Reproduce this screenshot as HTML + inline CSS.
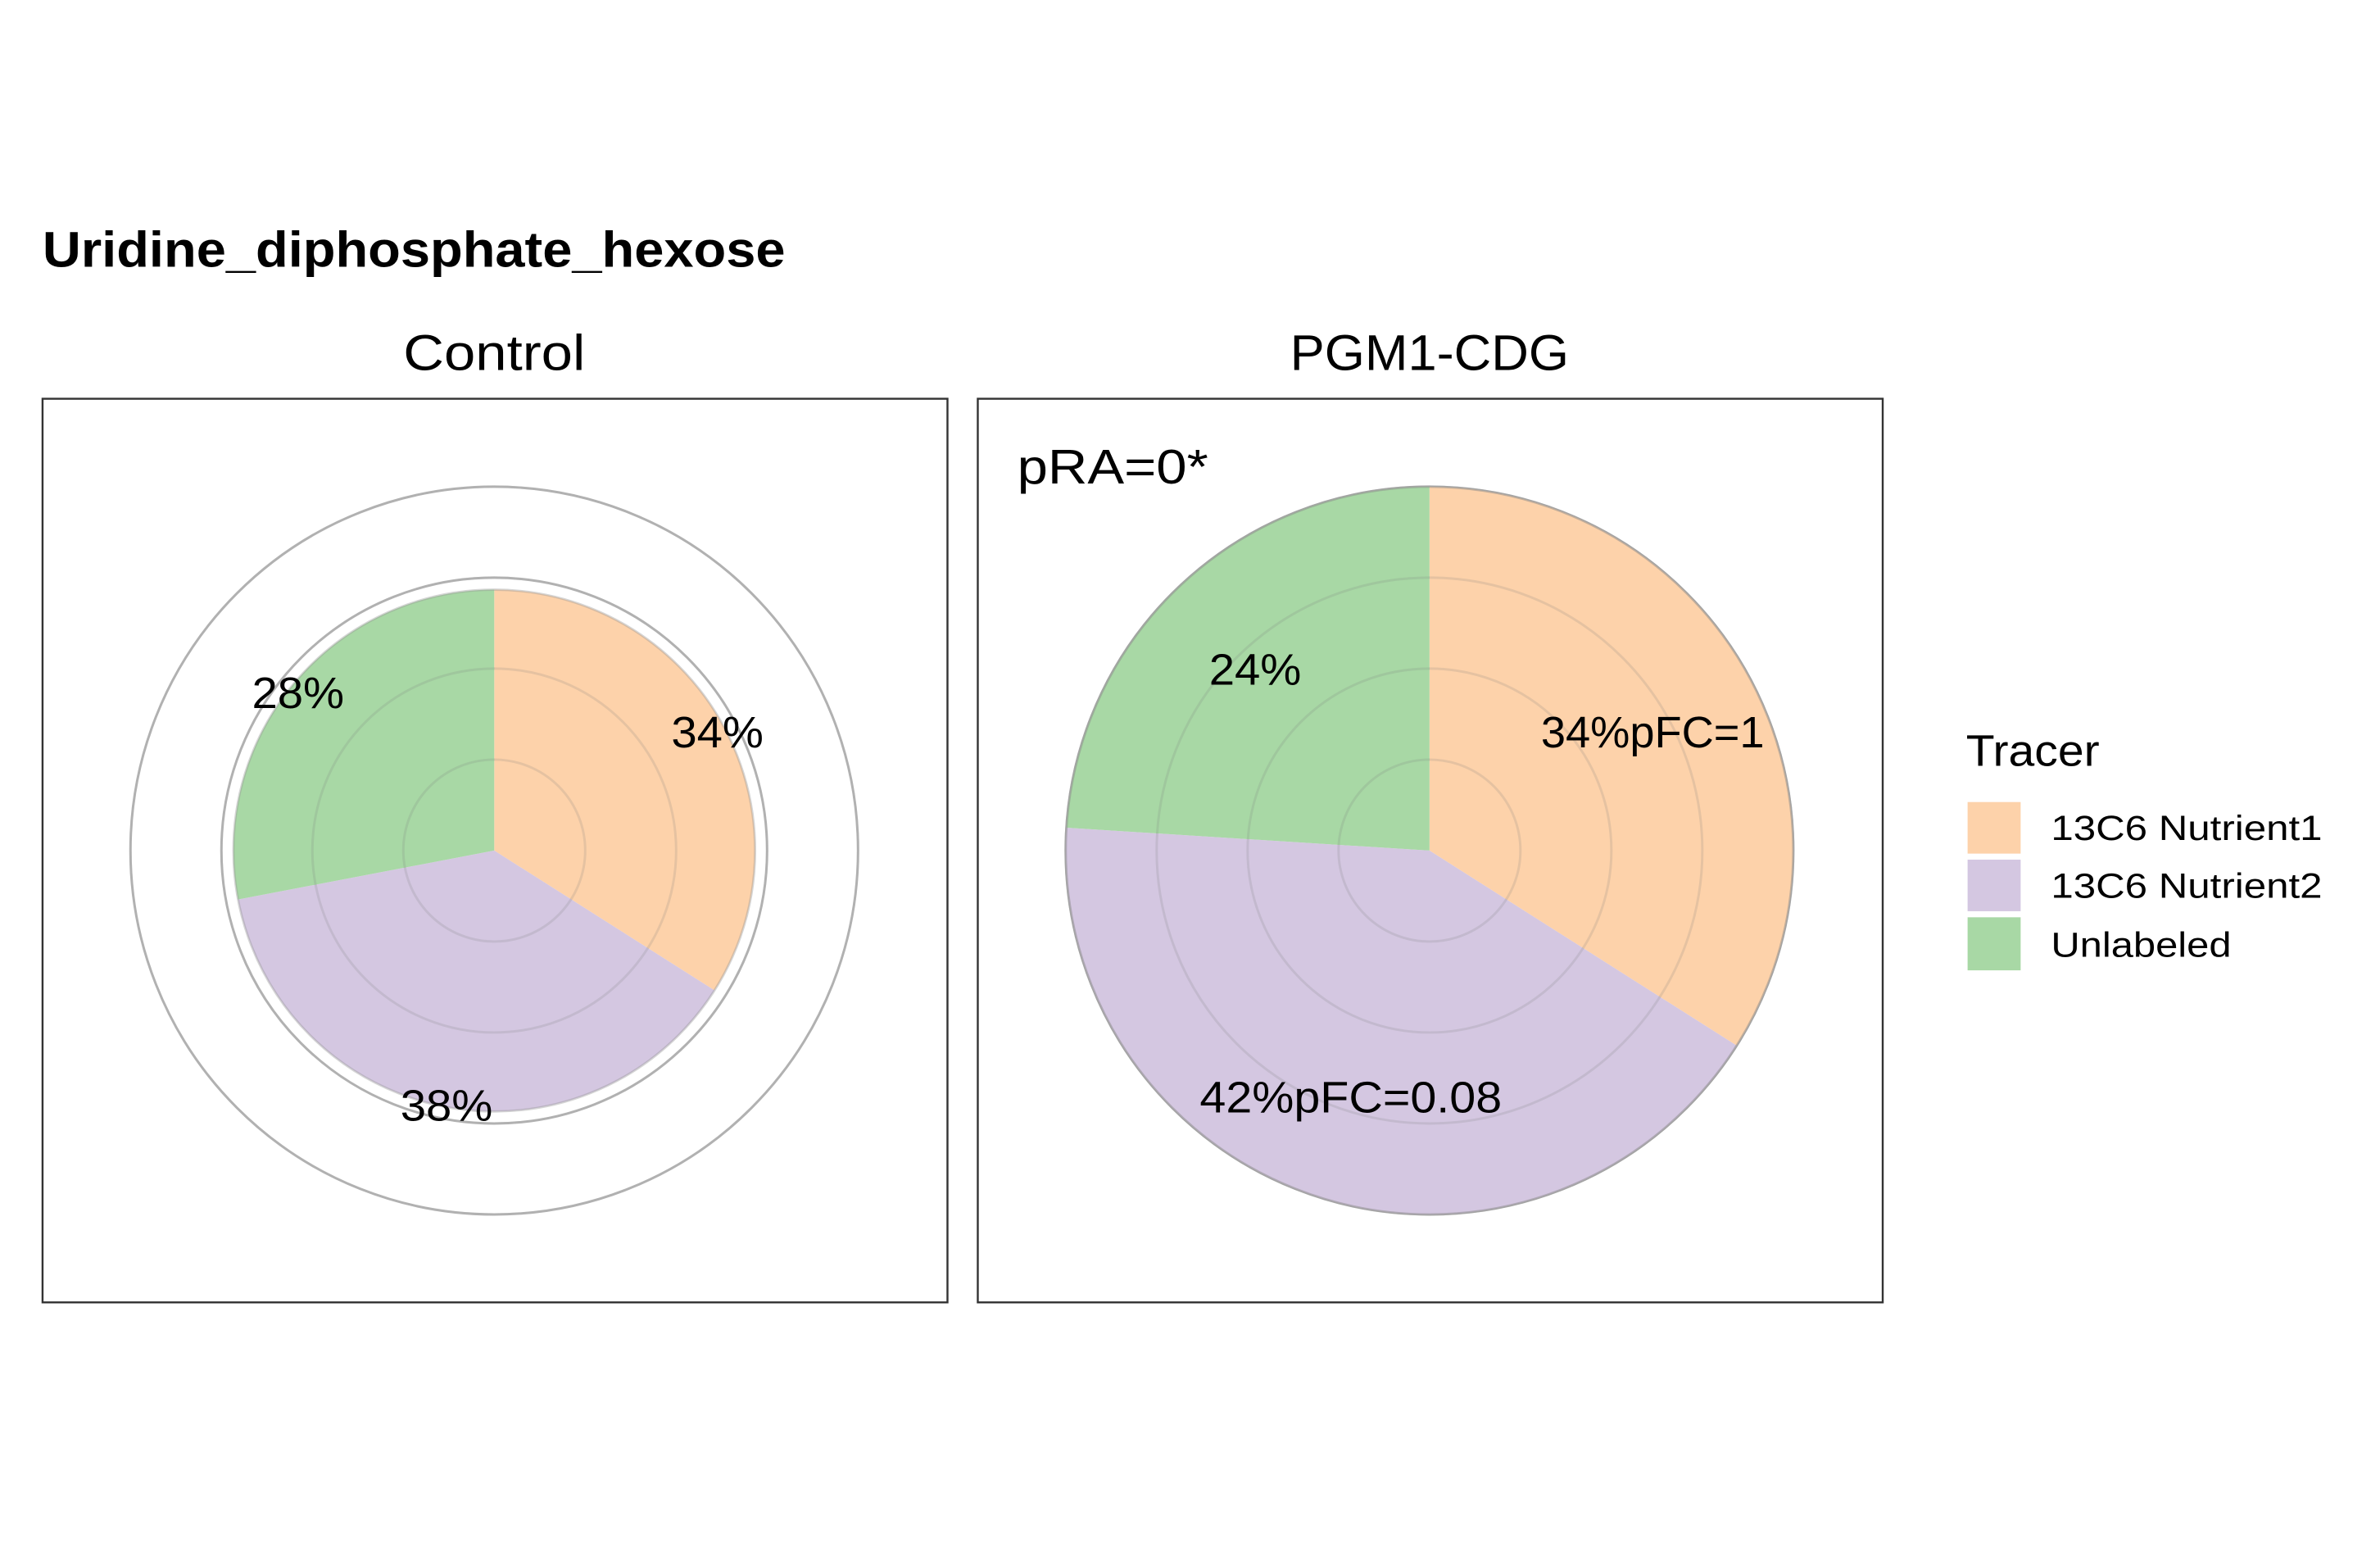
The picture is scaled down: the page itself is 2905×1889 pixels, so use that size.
<!DOCTYPE html>
<html><head><meta charset="utf-8"><style>
html,body{margin:0;padding:0;background:#fff}
svg{display:block}
text{font-family:"Liberation Sans",sans-serif}
</style></head><body>
<svg id="chart" width="2905" height="1889" viewBox="0 0 1570 1021" xmlns="http://www.w3.org/2000/svg">
<rect width="1570" height="1021" fill="#fff"/>
<text x="28" y="176" font-size="33" font-weight="bold" textLength="490" lengthAdjust="spacingAndGlyphs">Uridine_diphosphate_hexose</text>
<text x="326" y="244" font-size="33" text-anchor="middle" textLength="120" lengthAdjust="spacingAndGlyphs">Control</text>
<text x="943" y="244" font-size="33" text-anchor="middle" textLength="184" lengthAdjust="spacingAndGlyphs">PGM1-CDG</text>
<g id="panels"></g>
<rect x="28" y="263" width="597" height="596" fill="none" stroke="#333" stroke-width="1.3"/>
<rect x="645" y="263" width="597" height="596" fill="none" stroke="#333" stroke-width="1.3"/>
<text x="671" y="319" font-size="32" textLength="126" lengthAdjust="spacingAndGlyphs">pRA=0*</text>
<g>
<text x="1297" y="505" font-size="29" textLength="88" lengthAdjust="spacingAndGlyphs">Tracer</text>
<rect x="1298" y="529" width="35" height="34" fill="#fdd2aa"/>
<rect x="1298" y="567" width="35" height="34" fill="#d4c7e1"/>
<rect x="1298" y="605" width="35" height="35" fill="#a8d8a5"/>
<text x="1353" y="554" font-size="23" textLength="179" lengthAdjust="spacingAndGlyphs">13C6 Nutrient1</text>
<text x="1353" y="592" font-size="23" textLength="179" lengthAdjust="spacingAndGlyphs">13C6 Nutrient2</text>
<text x="1353" y="631" font-size="23" textLength="119" lengthAdjust="spacingAndGlyphs">Unlabeled</text>
</g>
</svg>
<script>
const panels = ["Control", "PGM1-CDG"];
const tracers = ["13C6 Nutrient1", "13C6 Nutrient2", "Unlabeled"];
const controlShares = [34, 38, 28];
const pgmShares = [34, 42, 24];
const totals = [0.717, 1.0];
const controlLabels = ["34%", "38%", "28%"];
const pgmLabels = ["34%pFC=1", "42%pFC=0.08", "24%"];
const gridTicks = [0.25, 0.5, 0.75, 1.0];

const colors = ["#fdd2aa", "#d4c7e1", "#a8d8a5"];
const centers = [[326, 561], [943, 561]];
const maxR = 240, labelR = 168;
const NS = "http://www.w3.org/2000/svg";
const g = document.getElementById("panels");
const rScale = v => v * maxR;
const aScale = (cum) => cum / 100 * 2 * Math.PI;
function pt(cx, cy, r, a) { return [cx + r * Math.sin(a), cy - r * Math.cos(a)]; }
function grid(cx, cy, stroke) {
  gridTicks.forEach(t => {
    const c = document.createElementNS(NS, "circle");
    c.setAttribute("cx", cx); c.setAttribute("cy", cy); c.setAttribute("r", rScale(t));
    c.setAttribute("fill", "none"); c.setAttribute("stroke", stroke); c.setAttribute("stroke-width", "1.6");
    
    
    g.appendChild(c);
  });
}

panels.forEach((p, pi) => {
  const [cx, cy] = centers[pi];
  const shares = pi === 0 ? controlShares : pgmShares;
  const labels = pi === 0 ? controlLabels : pgmLabels;
  const R = rScale(totals[pi]);
  grid(cx, cy, "#bdbdbd");
  let cum = 0;
  shares.forEach((s, i) => {
    const a0 = aScale(cum), a1 = aScale(cum + s);
    const [x0, y0] = pt(cx, cy, R, a0), [x1, y1] = pt(cx, cy, R, a1);
    const path = document.createElementNS(NS, "path");
    path.setAttribute("d", `M${cx},${cy} L${x0},${y0} A${R},${R} 0 ${(a1 - a0) > Math.PI ? 1 : 0} 1 ${x1},${y1} Z`);
    path.setAttribute("fill", colors[i]);
    
    
    g.appendChild(path);
    cum += s;
  });
  const outline = document.createElementNS(NS, "circle");
  outline.setAttribute("cx", cx); outline.setAttribute("cy", cy); outline.setAttribute("r", R);
  outline.setAttribute("fill", "none"); outline.setAttribute("stroke", "rgba(150,150,150,0.4)"); outline.setAttribute("stroke-width", "1.5");
  
  
  g.appendChild(outline);
  grid(cx, cy, "rgba(120,120,120,0.18)");
  cum = 0;
  shares.forEach((s, i) => {
    const am = aScale(cum + s / 2);
    const [lx, ly] = pt(cx, cy, labelR, am);
    const t = document.createElementNS(NS, "text");
    t.setAttribute("x", lx); t.setAttribute("y", ly + 13);
    t.setAttribute("font-size", "29"); t.setAttribute("text-anchor", "middle");
    const w = labels[i].length * 17.3 + 9;
    t.setAttribute("textLength", w);
    t.setAttribute("lengthAdjust", "spacingAndGlyphs");
    t.textContent = labels[i];
    
    
    g.appendChild(t);
    cum += s;
  });
});
</script>
</body></html>
